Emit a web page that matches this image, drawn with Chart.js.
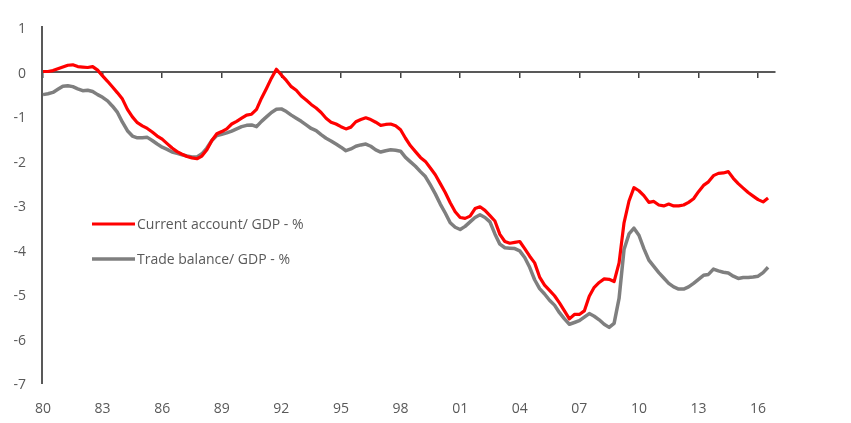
<!DOCTYPE html>
<html>
<head>
<meta charset="utf-8">
<script src="https://cdn.jsdelivr.net/npm/chart.js@4.4.1/dist/chart.umd.min.js"></script>
<style>
  html, body { margin: 0; padding: 0; background: #fff; }
  #wrap { width: 851px; height: 423px; position: relative; }
</style>
</head>
<body>
<div id="wrap"><canvas id="chart"></canvas></div>
<script>
// quarterly data, 1980 Q1 .. 2016 Q3
const startYear = 1980;

const currentAccount = [
  0.00, 0.00, 0.02, 0.06, 0.10, 0.14, 0.15, 0.11, 0.10, 0.09, 0.11, 0.03,
  -0.10, -0.22, -0.35, -0.48, -0.62, -0.85, -1.02, -1.15, -1.22, -1.28, -1.36, -1.45,
  -1.52, -1.62, -1.72, -1.80, -1.86, -1.91, -1.94, -1.96, -1.90, -1.76, -1.55, -1.40,
  -1.35, -1.29, -1.18, -1.12, -1.05, -0.98, -0.96, -0.85, -0.60, -0.38, -0.15, 0.05,
  -0.08, -0.20, -0.34, -0.42, -0.55, -0.64, -0.74, -0.82, -0.92, -1.05, -1.14, -1.18,
  -1.24, -1.29, -1.25, -1.13, -1.08, -1.04, -1.08, -1.14, -1.21, -1.19, -1.18, -1.22,
  -1.31, -1.50, -1.67, -1.80, -1.93, -2.02, -2.17, -2.32, -2.52, -2.72, -2.95, -3.15,
  -3.28, -3.30, -3.25, -3.08, -3.04, -3.12, -3.24, -3.36, -3.66, -3.82, -3.86, -3.84,
  -3.82, -3.98, -4.15, -4.30, -4.62, -4.80, -4.92, -5.04, -5.20, -5.38, -5.56, -5.46,
  -5.46, -5.38, -5.05, -4.85, -4.74, -4.66, -4.67, -4.72, -4.30, -3.40, -2.91, -2.61,
  -2.68, -2.79, -2.94, -2.92, -3.00, -3.02, -2.98, -3.02, -3.02, -3.00, -2.94, -2.86,
  -2.70, -2.56, -2.48, -2.34, -2.29, -2.28, -2.25, -2.40, -2.52, -2.62, -2.72, -2.80,
  -2.88, -2.93, -2.84
];

const tradeBalance = [
  -0.52, -0.50, -0.47, -0.40, -0.33, -0.32, -0.34, -0.39, -0.43, -0.42, -0.45, -0.52,
  -0.58, -0.66, -0.78, -0.92, -1.14, -1.33, -1.45, -1.49, -1.49, -1.48, -1.55, -1.63,
  -1.70, -1.75, -1.81, -1.84, -1.87, -1.90, -1.92, -1.92, -1.85, -1.72, -1.55, -1.44,
  -1.41, -1.38, -1.34, -1.29, -1.24, -1.21, -1.20, -1.24, -1.12, -1.02, -0.92, -0.85,
  -0.84, -0.90, -0.98, -1.05, -1.12, -1.20, -1.28, -1.33, -1.42, -1.50, -1.56, -1.63,
  -1.70, -1.78, -1.74, -1.68, -1.65, -1.63, -1.68, -1.76, -1.81, -1.78, -1.76, -1.77,
  -1.79, -1.93, -2.03, -2.13, -2.25, -2.36, -2.55, -2.75, -2.98, -3.18, -3.40, -3.50,
  -3.55, -3.48, -3.38, -3.28, -3.22, -3.28, -3.38, -3.65, -3.88, -3.96, -3.97, -3.98,
  -4.03, -4.18, -4.40, -4.68, -4.88, -5.00, -5.14, -5.25, -5.42, -5.56, -5.68, -5.64,
  -5.60, -5.52, -5.44, -5.50, -5.58, -5.68, -5.75, -5.66, -5.10, -4.00, -3.65, -3.52,
  -3.68, -3.98, -4.24, -4.38, -4.52, -4.64, -4.76, -4.84, -4.89, -4.89, -4.84, -4.76,
  -4.67, -4.58, -4.56, -4.44, -4.48, -4.51, -4.53, -4.60, -4.65, -4.63, -4.63, -4.62,
  -4.60, -4.52, -4.40
];

const tickYears = [1980, 1983, 1986, 1989, 1992, 1995, 1998, 2001, 2004, 2007, 2010, 2013, 2016];
const tickLabels = ['80', '83', '86', '89', '92', '95', '98', '01', '04', '07', '10', '13', '16'];
const seriesNames = ['Current account/ GDP - %', 'Trade balance/ GDP - %'];

const quarters = currentAccount.map((_, i) => startYear + i / 4);

const FONT = '"Open Sans", "Liberation Sans", sans-serif';
const TEXT = '#595959';
const AXIS = '#595959';

// legend drawn inside the plot, like the original
const insideLegend = {
  id: 'insideLegend',
  afterDraw(chart) {
    const ctx = chart.ctx;
    const rows = [{ y: 224 }, { y: 259 }];
    ctx.save();
    ctx.font = '14px ' + FONT;
    ctx.textBaseline = 'middle';
    chart.data.datasets.forEach((ds, i) => {
      const y = rows[i].y;
      ctx.strokeStyle = ds.borderColor;
      ctx.lineWidth = ds.borderWidth;
      ctx.beginPath();
      ctx.moveTo(92, y);
      ctx.lineTo(135, y);
      ctx.stroke();
      ctx.fillStyle = TEXT;
      ctx.fillText(ds.label, 137, y + 1);
    });
    ctx.restore();
  }
};

const setYearTicks = scale => {
  scale.ticks = tickYears.map(v => ({ value: v }));
};

new Chart(document.getElementById('chart'), {
  type: 'line',
  data: {
    labels: quarters,
    datasets: [
      {
        label: seriesNames[0],
        data: currentAccount,
        borderColor: '#ff0000',
        borderWidth: 3.2,
        pointRadius: 0,
        tension: 0,
        borderJoinStyle: 'round'
      },
      {
        label: seriesNames[1],
        data: tradeBalance,
        borderColor: '#7f7f7f',
        borderWidth: 3.5,
        pointRadius: 0,
        tension: 0,
        borderJoinStyle: 'round'
      }
    ]
  },
  options: {
    responsive: true,
    maintainAspectRatio: false,
    animation: false,
    layout: { padding: { left: 0, top: 27, right: 76, bottom: 0 } },
    plugins: {
      legend: { display: false },
      tooltip: { enabled: false }
    },
    scales: {
      x: {
        type: 'linear',
        min: 1979.95,
        max: 2016.85,
        afterBuildTicks: setYearTicks,
        afterFit: scale => { scale.height = 40; },
        grid: { display: false, drawTicks: false },
        border: { display: false },
        ticks: {
          padding: 18,
          color: TEXT,
          font: { family: FONT, size: 14 },
          maxRotation: 0,
          callback: (value, index) => tickLabels[index]
        }
      },
      x2: {
        type: 'linear',
        position: { y: 0 },
        min: 1979.95,
        max: 2016.85,
        afterBuildTicks: setYearTicks,
        grid: { drawOnChartArea: false, drawTicks: true, tickLength: 5, color: '#404040', lineWidth: 1.5 },
        border: { display: true, color: AXIS, width: 2 },
        ticks: { display: false }
      },
      y: {
        min: -7,
        max: 1,
        afterFit: scale => { scale.width = 42; },
        grid: { display: false, drawTicks: false },
        border: { display: true, color: AXIS, width: 2 },
        ticks: {
          stepSize: 1,
          padding: 16,
          labelOffset: 2.5,
          color: TEXT,
          font: { family: FONT, size: 14 }
        }
      }
    }
  },
  plugins: [insideLegend]
});
</script>
</body>
</html>
